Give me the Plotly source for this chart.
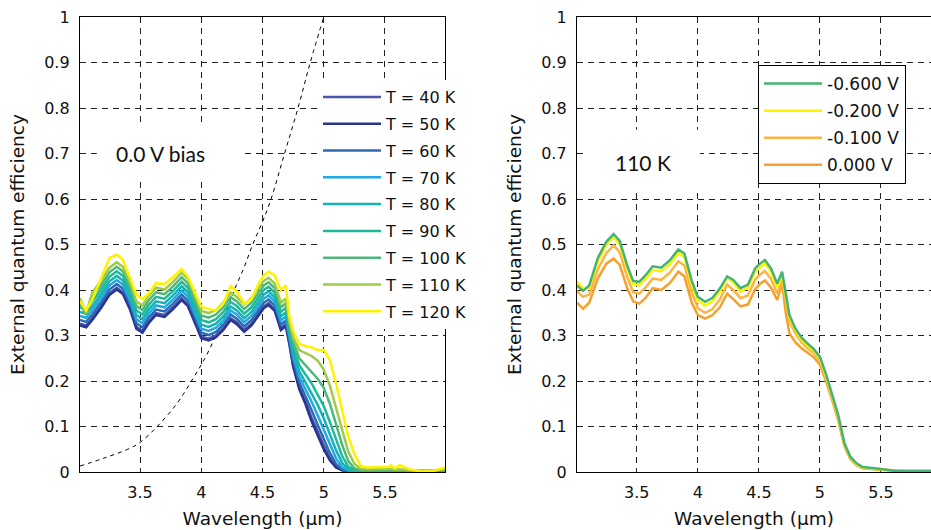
import plotly.graph_objects as go

# ---------------- data ----------------
wavelength = [3.01, 3.06, 3.11, 3.18, 3.25, 3.31, 3.36, 3.42, 3.47, 3.52, 3.57, 3.63, 3.70, 3.77,
              3.84, 3.89, 3.95, 4.00, 4.06, 4.12, 4.18, 4.24, 4.29, 4.35, 4.41, 4.47, 4.51, 4.55,
              4.60, 4.65, 4.69, 4.72, 4.75, 4.80, 4.85, 4.90, 4.95, 5.00, 5.05, 5.10, 5.15, 5.20,
              5.25, 5.30, 5.35, 5.45, 5.52, 5.55, 5.58, 5.62, 5.70, 5.80, 5.90, 5.99]

temp_labels = ["T = 40 K", "T = 50 K", "T = 60 K", "T = 70 K", "T = 80 K",
               "T = 90 K", "T = 100 K", "T = 110 K", "T = 120 K"]

eqe_40K = [0.326, 0.322, 0.338, 0.364, 0.393, 0.405, 0.395, 0.360, 0.319, 0.310, 0.331, 0.349, 0.345, 0.362,
           0.382, 0.369, 0.331, 0.298, 0.293, 0.300, 0.316, 0.338, 0.329, 0.312, 0.326, 0.349, 0.364, 0.371,
           0.358, 0.316, 0.325, 0.283, 0.236, 0.186, 0.156, 0.120, 0.088, 0.058, 0.031, 0.012, 0.004, 0.002,
           0.001, 0.001, 0.001, 0.001, 0.001, 0.001, 0.001, 0.001, 0.001, 0.001, 0.001, 0.002]
eqe_50K = [0.322, 0.318, 0.334, 0.360, 0.389, 0.401, 0.391, 0.356, 0.315, 0.306, 0.327, 0.345, 0.341, 0.358,
           0.378, 0.365, 0.327, 0.294, 0.289, 0.296, 0.312, 0.334, 0.325, 0.308, 0.322, 0.345, 0.360, 0.367,
           0.354, 0.312, 0.321, 0.280, 0.232, 0.182, 0.150, 0.112, 0.080, 0.050, 0.026, 0.010, 0.004, 0.002,
           0.001, 0.001, 0.001, 0.001, 0.001, 0.001, 0.001, 0.001, 0.001, 0.000, 0.001, 0.002]
eqe_60K = [0.334, 0.330, 0.346, 0.372, 0.401, 0.413, 0.403, 0.368, 0.327, 0.318, 0.339, 0.357, 0.353, 0.370,
           0.390, 0.377, 0.339, 0.306, 0.301, 0.308, 0.324, 0.346, 0.337, 0.320, 0.334, 0.357, 0.372, 0.379,
           0.366, 0.324, 0.333, 0.290, 0.245, 0.197, 0.168, 0.136, 0.104, 0.072, 0.042, 0.018, 0.006, 0.002,
           0.001, 0.001, 0.001, 0.001, 0.002, 0.002, 0.001, 0.002, 0.001, 0.001, 0.001, 0.002]
eqe_70K = [0.343, 0.339, 0.355, 0.381, 0.410, 0.422, 0.412, 0.377, 0.336, 0.327, 0.348, 0.366, 0.362, 0.379,
           0.399, 0.386, 0.348, 0.315, 0.310, 0.317, 0.333, 0.355, 0.346, 0.329, 0.343, 0.366, 0.381, 0.388,
           0.375, 0.333, 0.342, 0.298, 0.255, 0.210, 0.183, 0.155, 0.125, 0.094, 0.060, 0.030, 0.011, 0.003,
           0.002, 0.001, 0.002, 0.002, 0.002, 0.003, 0.002, 0.002, 0.002, 0.001, 0.002, 0.003]
eqe_80K = [0.352, 0.348, 0.364, 0.390, 0.419, 0.431, 0.421, 0.386, 0.345, 0.336, 0.357, 0.375, 0.371, 0.388,
           0.408, 0.395, 0.357, 0.324, 0.319, 0.326, 0.342, 0.364, 0.355, 0.338, 0.352, 0.375, 0.390, 0.397,
           0.384, 0.342, 0.351, 0.306, 0.265, 0.222, 0.198, 0.175, 0.148, 0.118, 0.085, 0.048, 0.020, 0.006,
           0.003, 0.002, 0.002, 0.002, 0.003, 0.003, 0.002, 0.003, 0.002, 0.001, 0.002, 0.003]
eqe_90K = [0.362, 0.356, 0.374, 0.400, 0.429, 0.441, 0.431, 0.396, 0.355, 0.346, 0.367, 0.385, 0.381, 0.398,
           0.418, 0.405, 0.367, 0.334, 0.329, 0.336, 0.352, 0.374, 0.365, 0.348, 0.362, 0.385, 0.400, 0.407,
           0.394, 0.352, 0.361, 0.314, 0.275, 0.235, 0.215, 0.195, 0.170, 0.145, 0.110, 0.070, 0.035, 0.012,
           0.004, 0.003, 0.003, 0.003, 0.003, 0.004, 0.003, 0.003, 0.003, 0.002, 0.002, 0.004]
eqe_100K = [0.372, 0.345, 0.384, 0.410, 0.439, 0.451, 0.441, 0.406, 0.365, 0.356, 0.377, 0.395, 0.391, 0.408,
            0.428, 0.415, 0.377, 0.344, 0.339, 0.346, 0.362, 0.384, 0.375, 0.358, 0.372, 0.395, 0.410, 0.417,
            0.404, 0.362, 0.371, 0.322, 0.286, 0.250, 0.235, 0.220, 0.205, 0.185, 0.150, 0.105, 0.060, 0.024,
            0.008, 0.004, 0.004, 0.004, 0.004, 0.005, 0.004, 0.004, 0.003, 0.002, 0.003, 0.005]
eqe_110K = [0.382, 0.350, 0.394, 0.420, 0.449, 0.461, 0.451, 0.416, 0.375, 0.366, 0.387, 0.405, 0.401, 0.418,
            0.438, 0.425, 0.387, 0.354, 0.349, 0.356, 0.372, 0.394, 0.385, 0.368, 0.382, 0.405, 0.420, 0.427,
            0.414, 0.372, 0.381, 0.330, 0.296, 0.268, 0.262, 0.255, 0.245, 0.225, 0.190, 0.140, 0.090, 0.045,
            0.018, 0.007, 0.006, 0.006, 0.006, 0.007, 0.005, 0.006, 0.004, 0.003, 0.004, 0.006]
eqe_120K = [0.376, 0.355, 0.378, 0.426, 0.470, 0.478, 0.466, 0.426, 0.390, 0.380, 0.392, 0.415, 0.413, 0.428,
            0.446, 0.430, 0.393, 0.363, 0.358, 0.355, 0.370, 0.408, 0.397, 0.370, 0.380, 0.415, 0.432, 0.440,
            0.432, 0.400, 0.410, 0.341, 0.310, 0.282, 0.277, 0.274, 0.268, 0.268, 0.246, 0.195, 0.136, 0.078,
            0.040, 0.014, 0.010, 0.010, 0.011, 0.015, 0.008, 0.015, 0.006, 0.001, 0.003, 0.010]

# dashed reference curve (left panel)
ref_wavelength = [3.01, 3.2, 3.4, 3.5, 3.64, 3.8, 3.92, 4.03, 4.12, 4.2, 4.27, 4.35, 4.42, 4.5,
                  4.57, 4.68, 4.79, 4.89, 5.0]
ref_curve = [0.013, 0.03, 0.05, 0.065, 0.1, 0.15, 0.2, 0.25, 0.3, 0.35, 0.4, 0.45, 0.5, 0.55,
             0.6, 0.7, 0.8, 0.9, 1.0]

bias_labels = ["-0.600 V", "-0.200 V", "-0.100 V", "0.000 V"]
eqe_m060V = [0.410, 0.398, 0.410, 0.470, 0.506, 0.523, 0.508, 0.455, 0.420, 0.418, 0.432, 0.452, 0.449, 0.465,
             0.489, 0.480, 0.420, 0.385, 0.374, 0.383, 0.403, 0.430, 0.422, 0.404, 0.412, 0.448, 0.458, 0.466,
             0.447, 0.414, 0.440, 0.390, 0.345, 0.315, 0.295, 0.282, 0.270, 0.253, 0.215, 0.170, 0.125, 0.064,
             0.033, 0.019, 0.011, 0.008, 0.006, 0.004, 0.003, 0.002, 0.002, 0.002, 0.002, 0.002]
eqe_m020V = [0.418, 0.403, 0.405, 0.462, 0.499, 0.516, 0.501, 0.448, 0.413, 0.410, 0.424, 0.444, 0.441, 0.457,
             0.481, 0.472, 0.412, 0.377, 0.366, 0.375, 0.396, 0.428, 0.416, 0.397, 0.405, 0.440, 0.450, 0.458,
             0.440, 0.407, 0.433, 0.384, 0.340, 0.311, 0.291, 0.278, 0.266, 0.249, 0.211, 0.167, 0.122, 0.062,
             0.031, 0.017, 0.010, 0.007, 0.005, 0.004, 0.003, 0.002, 0.002, 0.002, 0.002, 0.002]
eqe_m010V = [0.398, 0.385, 0.390, 0.445, 0.481, 0.498, 0.483, 0.430, 0.395, 0.392, 0.405, 0.425, 0.422, 0.438,
             0.463, 0.454, 0.395, 0.360, 0.350, 0.358, 0.379, 0.412, 0.400, 0.382, 0.388, 0.423, 0.434, 0.442,
             0.424, 0.392, 0.420, 0.375, 0.332, 0.304, 0.285, 0.272, 0.261, 0.244, 0.207, 0.163, 0.119, 0.060,
             0.030, 0.016, 0.009, 0.006, 0.005, 0.004, 0.003, 0.002, 0.002, 0.002, 0.002, 0.002]
eqe_000V = [0.372, 0.359, 0.372, 0.425, 0.458, 0.469, 0.455, 0.405, 0.375, 0.370, 0.382, 0.404, 0.400, 0.415,
            0.440, 0.430, 0.372, 0.345, 0.337, 0.345, 0.362, 0.392, 0.380, 0.364, 0.368, 0.402, 0.414, 0.421,
            0.405, 0.378, 0.415, 0.350, 0.305, 0.285, 0.272, 0.262, 0.252, 0.236, 0.200, 0.158, 0.114, 0.057,
            0.028, 0.015, 0.008, 0.006, 0.005, 0.004, 0.003, 0.002, 0.002, 0.002, 0.002, 0.002]

y_ticks = [0, 0.1, 0.2, 0.3, 0.4, 0.5, 0.6, 0.7, 0.8, 0.9, 1]
y_ticktext = ["0", "0.1", "0.2", "0.3", "0.4", "0.5", "0.6", "0.7", "0.8", "0.9", "1"]
x_ticks = [3.5, 4, 4.5, 5, 5.5]
x_ticktext = ["3.5", "4", "4.5", "5", "5.5"]

temp_series = [eqe_40K, eqe_50K, eqe_60K, eqe_70K, eqe_80K, eqe_90K, eqe_100K, eqe_110K, eqe_120K]
bias_series = [eqe_m060V, eqe_m020V, eqe_m010V, eqe_000V]
for s in temp_series + bias_series:
    assert len(s) == len(wavelength), len(s)

# ---------------- styling ----------------
temp_colors = ["#4a56a8", "#283593", "#2c6ab3", "#22a8e2", "#16b2b4",
               "#1cba9b", "#4db87a", "#9ccb4a", "#fff200"]
bias_colors = ["#45b373", "#fff200", "#fbb540", "#f7a02c"]

FONT = "DejaVu Sans"
W, H = 931, 530
PLOT_TOP, PLOT_BOTTOM = 17, 472
PLOT_H = PLOT_BOTTOM - PLOT_TOP


def px_x(px):
    return px / W


def px_y(px):
    return (PLOT_BOTTOM - px) / PLOT_H


fig = go.Figure()

fig.add_trace(go.Scatter(x=ref_wavelength, y=ref_curve, mode="lines", line_shape="spline",
                         line=dict(color="black", width=1, dash="4px,4px"),
                         showlegend=False, xaxis="x", yaxis="y", hoverinfo="skip"))

for i, (lab, ys, col) in enumerate(zip(temp_labels, temp_series, temp_colors)):
    fig.add_trace(go.Scatter(x=wavelength, y=ys, mode="lines", name=lab,
                             line=dict(color=col, width=2.5),
                             legendgroup="t%d" % i, legend="legend", legendrank=i + 1,
                             xaxis="x", yaxis="y"))

# draw in reverse so the green (-0.6 V) curve lies on top; legend order kept via legendrank
for i in reversed(range(len(bias_labels))):
    fig.add_trace(go.Scatter(x=wavelength, y=bias_series[i], mode="lines", name=bias_labels[i],
                             line=dict(color=bias_colors[i], width=2.5),
                             legendgroup="b%d" % i, legend="legend2", legendrank=i + 1,
                             xaxis="x2", yaxis="y2"))

grid = dict(showgrid=True, gridcolor="#222", gridwidth=1, griddash="6px,5px",
            showline=True, linecolor="black", linewidth=1.3, zeroline=False,
            ticks="", tickfont=dict(family=FONT, size=16, color="#111"))

fig.update_layout(
    width=W, height=H,
    margin=dict(l=0, r=0, t=PLOT_TOP, b=H - PLOT_BOTTOM),
    paper_bgcolor="white", plot_bgcolor="white",
    font=dict(family=FONT, color="#111"),
    xaxis=dict(domain=[px_x(80), px_x(445)], range=[3.01, 5.99], tickvals=x_ticks, ticktext=x_ticktext,
               mirror=True, anchor="y", ticklabelstandoff=6,
               title=dict(text="Wavelength (\u00b5m)", font=dict(family=FONT, size=18.5), standoff=10),
               **grid),
    yaxis=dict(domain=[0, 1], range=[0, 1], tickvals=y_ticks, ticktext=y_ticktext,
               mirror=True, anchor="x", ticklabelstandoff=6,
               title=dict(text="External quantum efficiency", font=dict(family=FONT, size=18.5), standoff=14),
               **grid),
    xaxis2=dict(domain=[px_x(577), 1.0], range=[3.01, 5.91], tickvals=x_ticks, ticktext=x_ticktext,
                mirror=True, anchor="y2", ticklabelstandoff=6,
                title=dict(text="Wavelength (\u00b5m)", font=dict(family=FONT, size=18.5), standoff=10),
                **grid),
    yaxis2=dict(domain=[0, 1], range=[0, 1], tickvals=y_ticks, ticktext=y_ticktext,
                mirror=False, anchor="x2", ticklabelstandoff=6,
                title=dict(text="External quantum efficiency", font=dict(family=FONT, size=18.5), standoff=14),
                **grid),
    legend=dict(x=px_x(318), y=px_y(80), xanchor="left", yanchor="top",
                bgcolor="white", borderwidth=0, tracegroupgap=3, itemwidth=58,
                font=dict(family=FONT, size=16, color="#111")),
    legend2=dict(x=px_x(758), y=px_y(65), xanchor="left", yanchor="top",
                 bgcolor="white", bordercolor="black", borderwidth=1, tracegroupgap=2, itemwidth=58,
                 font=dict(family=FONT, size=17, color="#111")),
    shapes=[
        dict(type="rect", xref="x", yref="y", x0=3.147, x1=4.336, y0=0.642, y1=0.758,
             fillcolor="white", line=dict(width=0), layer="between"),
        dict(type="rect", xref="x2", yref="y2", x0=3.098, x1=4.016, y0=0.62, y1=0.752,
             fillcolor="white", line=dict(width=0), layer="between"),
    ],
    annotations=[
        dict(text="0.0 V bias", xref="x", yref="y", x=3.671, y=0.699, showarrow=False,
             font=dict(family="Lato", size=21, color="#111")),
        dict(text="110 K", xref="x2", yref="y2", x=3.55, y=0.681, showarrow=False,
             font=dict(family="Lato", size=21, color="#111")),
    ],
)

# the page's default body margin would shift the figure; remove it
fig.write_html("out.html", config={"displayModeBar": False},
               post_script="document.body.style.margin='0';document.body.style.overflow='hidden';")
